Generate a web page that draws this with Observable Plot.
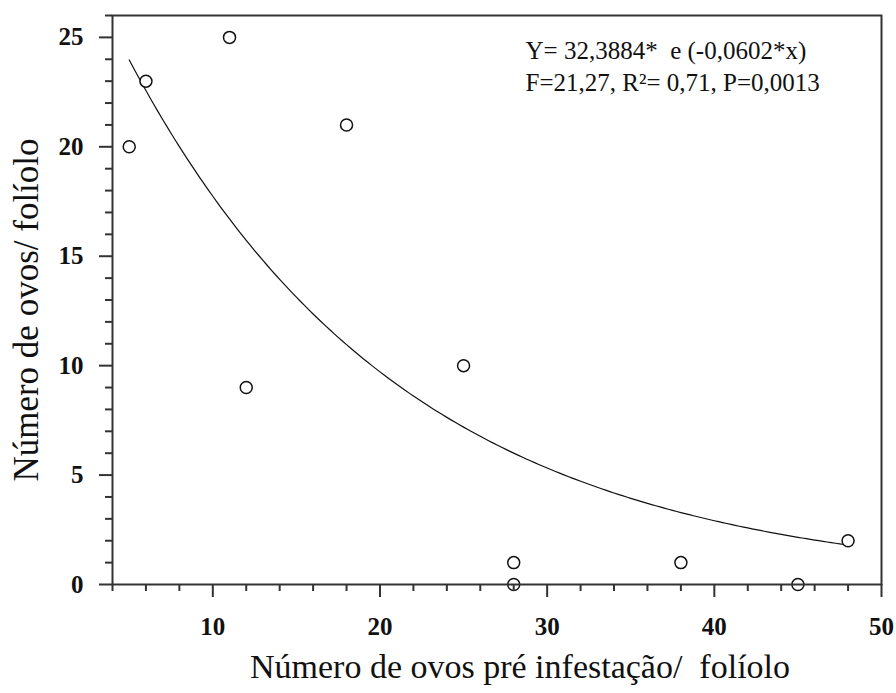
<!DOCTYPE html>
<html><head><meta charset="utf-8">
<script src="https://cdn.jsdelivr.net/npm/d3@7"></script>
<script src="https://cdn.jsdelivr.net/npm/@observablehq/plot@0.6"></script>
<style>body{margin:0;background:#fff}</style>
</head><body><div id="chart"></div>
<script>
const preInfest = [5, 6, 11, 12, 18, 25, 28, 28, 38, 45, 48];
const eggs = [20, 23, 25, 9, 21, 10, 1, 0, 1, 0, 2];
const fitA = 32.3884, fitB = -0.0602;
const fitRange = [5, 48];
const xTicks = [10, 20, 30, 40, 50];
const xMinor = [4, 6, 8, 12, 14, 16, 18, 22, 24, 26, 28, 32, 34, 36, 38, 42, 44, 46, 48];
const yTicks = [0, 5, 10, 15, 20, 25];
const yMinor = [1, 2, 3, 4, 6, 7, 8, 9, 11, 12, 13, 14, 16, 17, 18, 19, 21, 22, 23, 24, 26];
const eqLine1 = "Y= 32,3884*  e (-0,0602*x)";
const eqLine2 = "F=21,27, R²= 0,71, P=0,0013";
const xTitle = "Número de ovos pré infestação/  folíolo";
const yTitle = "Número de ovos/ folíolo";

const points = preInfest.map((x, i) => ({x, y: eggs[i]}));
const curve = d3.range(fitRange[0], fitRange[1] + 0.001, 0.25).map(x => ({x, y: fitA * Math.exp(fitB * x)}));
const FF = "Liberation Serif";

const chart = Plot.plot({
  width: 896, height: 693,
  marginLeft: 112, marginRight: 15, marginTop: 15, marginBottom: 109,
  x: {domain: [4, 50]},
  y: {domain: [0, 26]},
  style: {fontFamily: FF, color: "#111"},
  marks: [
    Plot.line(curve, {x: "x", y: "y", stroke: "#111", strokeWidth: 1.2}),
    Plot.dot(points, {x: "x", y: "y", r: 6, stroke: "#111", fill: "white", strokeWidth: 1.5}),
    Plot.frame({stroke: "#333", strokeWidth: 2}),
    Plot.axisX({ticks: xTicks, tickSize: 13, tickPadding: 20, fontSize: 25, fontWeight: "bold", fontFamily: FF, label: null, stroke: "#333", strokeWidth: 2}),
    Plot.axisX({ticks: xMinor, tickSize: 7, text: null, label: null, stroke: "#333", strokeWidth: 2}),
    Plot.axisY({ticks: yTicks, tickSize: 13, tickPadding: 16, fontSize: 25, fontWeight: "bold", fontFamily: FF, label: null, stroke: "#333", strokeWidth: 2}),
    Plot.axisY({ticks: yMinor, tickSize: 7, text: null, label: null, stroke: "#333", strokeWidth: 2}),
    Plot.text([xTitle], {frameAnchor: "bottom", textAnchor: "middle", dx: 23, dy: 93, fontSize: 34, fontFamily: FF, fill: "#111"}),
    Plot.text([yTitle], {frameAnchor: "left", textAnchor: "middle", dx: -86, dy: 10, rotate: -90, fontSize: 35, fontFamily: FF, fill: "#111"}),
    Plot.text([eqLine1], {frameAnchor: "top-left", dx: 413, dy: 26, textAnchor: "start", lineAnchor: "top", fontSize: 25, fontFamily: FF, fill: "#111"}),
    Plot.text([eqLine2], {frameAnchor: "top-left", dx: 413, dy: 58, textAnchor: "start", lineAnchor: "top", fontSize: 25, fontFamily: FF, fill: "#111"})
  ]
});
document.getElementById("chart").append(chart);
</script></body></html>
